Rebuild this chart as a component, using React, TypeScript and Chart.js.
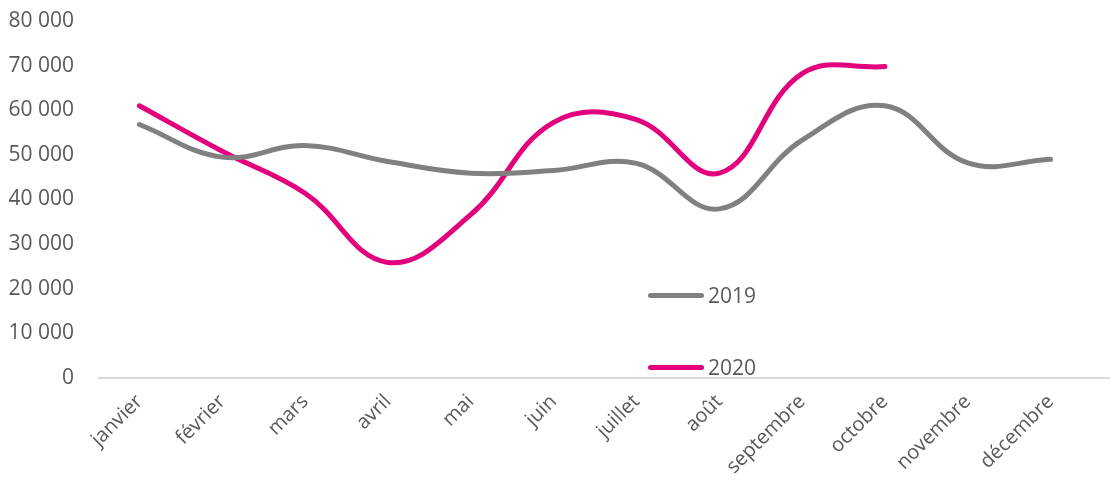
import React, { useEffect, useRef } from "react";
import { Chart, registerables } from "chart.js";

Chart.register(...registerables);

const months = [
  "janvier", "février", "mars", "avril", "mai", "juin",
  "juillet", "août", "septembre", "octobre", "novembre", "décembre",
];
const series2019 = [56800, 49500, 52100, 48500, 45900, 46500, 48100, 37900, 53300, 61000, 48200, 49000];
const series2020 = [61000, 50800, 41400, 25900, 36600, 57300, 57900, 45900, 68200, 69800, null, null];
const seriesLabels = ["2019", "2020"];
const seriesColors = ["#808080", "#E3007D"];
const yTicks = [0, 10000, 20000, 30000, 40000, 50000, 60000, 70000, 80000];

const fmt = (v: number) => String(v).replace(/\B(?=(\d{3})+(?!\d))/g, " ");

const baselinePlugin = {
  id: "baseline",
  beforeDatasetsDraw(chart: any) {
    const { ctx, chartArea } = chart;
    const y = chart.scales.y.getPixelForValue(0);
    ctx.save();
    ctx.strokeStyle = "#d9d9d9";
    ctx.lineWidth = 2;
    ctx.beginPath();
    ctx.moveTo(chartArea.left, y);
    ctx.lineTo(chart.width, y);
    ctx.stroke();
    ctx.restore();
  },
};

export default function App() {
  const ref = useRef<HTMLCanvasElement | null>(null);

  useEffect(() => {
    document.body.style.margin = "0";
    const ctx = ref.current!;
    const chart = new Chart(ctx, {
      type: "line",
      data: {
        labels: months,
        datasets: [
          {
            label: seriesLabels[0],
            data: series2019,
            borderColor: seriesColors[0],
            backgroundColor: seriesColors[0],
            borderWidth: 5,
            pointRadius: 0,
            tension: 0.4,
            borderCapStyle: "round",
          },
          {
            label: seriesLabels[1],
            data: series2020,
            borderColor: seriesColors[1],
            backgroundColor: seriesColors[1],
            borderWidth: 5,
            pointRadius: 0,
            tension: 0.4,
            borderCapStyle: "round",
          },
        ],
      },
      plugins: [baselinePlugin],
      options: {
        animation: false,
        responsive: false,
        layout: { padding: { top: 21, right: 18, left: 0, bottom: 0 } },
        plugins: { legend: { display: false }, tooltip: { enabled: false } },
        scales: {
          x: {
            offset: true,
            grid: { display: false, drawTicks: false },
            border: { display: false },
            ticks: {
              color: "#595959",
              font: { family: "Open Sans", size: 20 },
              maxRotation: 45,
              minRotation: 45,
              padding: 12,
              autoSkip: false,
            },
            afterFit: (s: any) => {
              s.height = 106;
              s.paddingTop = 0;
              s.paddingLeft = 0;
              s.paddingRight = 0;
            },
          },
          y: {
            min: 0,
            max: 80000,
            afterBuildTicks: (s: any) => { s.ticks = yTicks.map((v) => ({ value: v })); },
            grid: { display: false, drawTicks: false },
            border: { display: false },
            ticks: {
              color: "#595959",
              font: { family: "Open Sans", size: 21 },
              padding: 24,
              callback: (v: any) => fmt(Number(v)),
            },
            afterFit: (s: any) => {
              s.width = 98;
              s.paddingTop = 0;
              s.paddingBottom = 0;
            },
          },
        },
      },
    });
    return () => chart.destroy();
  }, []);

  const legendTops = [295, 367];
  return (
    <div style={{ position: "absolute", left: 0, top: 0, width: 1110, height: 484, background: "#fff" }}>
      <canvas ref={ref} width={1110} height={484} />
      {seriesLabels.map((lab, i) => (
        <div
          key={lab}
          style={{
            position: "absolute",
            left: 648,
            top: legendTops[i] - 15,
            height: 30,
            display: "flex",
            alignItems: "center",
            fontFamily: "Open Sans",
            fontSize: 21,
            color: "#595959",
          }}
        >
          <span style={{ display: "inline-block", width: 56, height: 5, borderRadius: 3, background: seriesColors[i], marginRight: 4 }} />
          <span>{lab}</span>
        </div>
      ))}
    </div>
  );
}
